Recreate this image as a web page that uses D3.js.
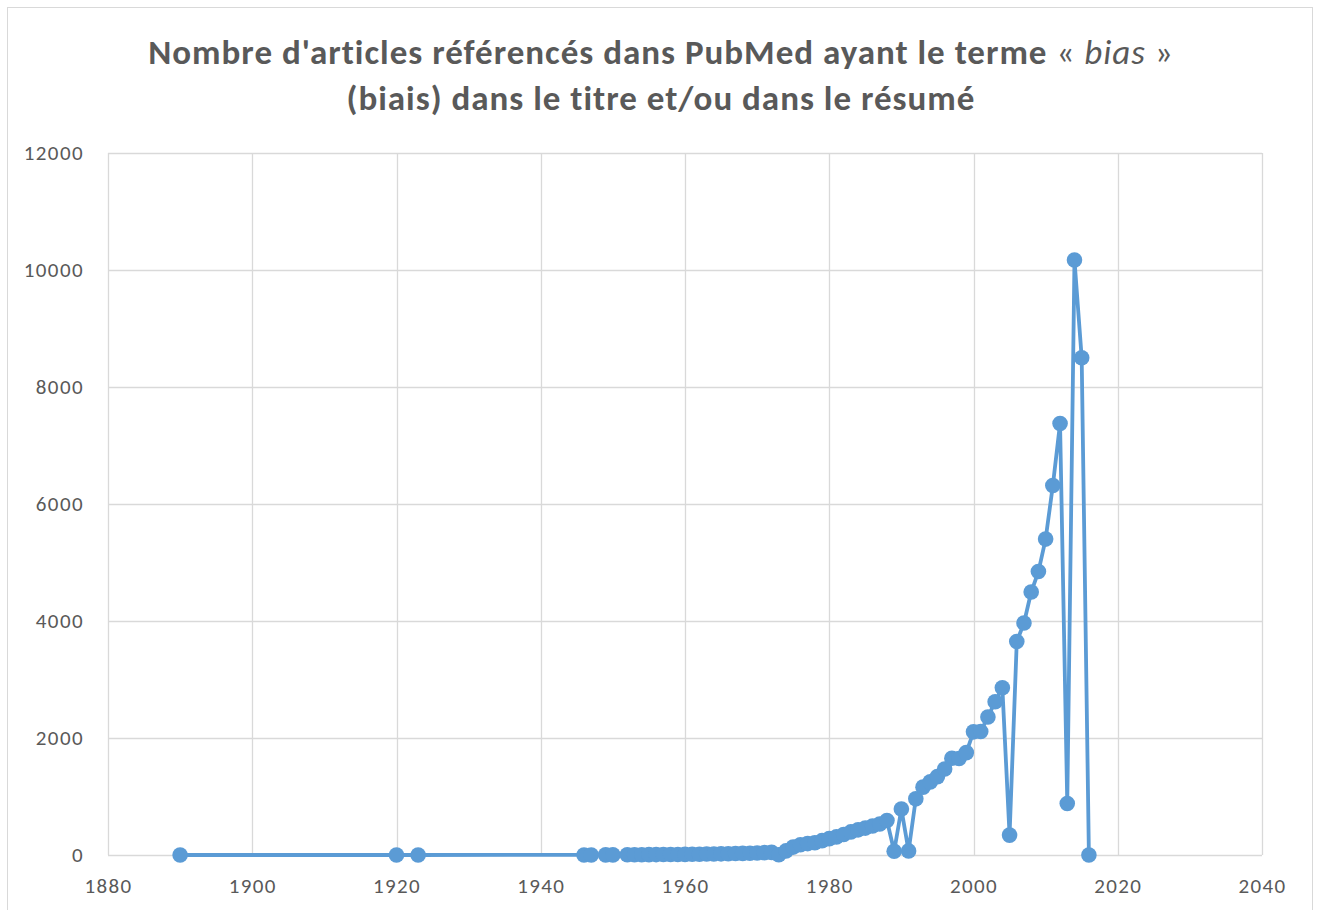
<!DOCTYPE html>
<html>
<head>
<meta charset="utf-8">
<script src="https://cdn.jsdelivr.net/npm/d3@7"></script>
<style>
  body { margin: 0; background: #fff; }
  svg { display: block; }
</style>
</head>
<body>
<svg id="chart" width="1320" height="910"></svg>
<script>
const years = [1890, 1920, 1923, 1946, 1947, 1949, 1950,
  1952, 1953, 1954, 1955, 1956, 1957, 1958, 1959, 1960, 1961, 1962, 1963, 1964, 1965,
  1966, 1967, 1968, 1969, 1970, 1971, 1972, 1973, 1974, 1975, 1976, 1977, 1978, 1979,
  1980, 1981, 1982, 1983, 1984, 1985, 1986, 1987, 1988, 1989, 1990, 1991, 1992, 1993,
  1994, 1995, 1996, 1997, 1998, 1999, 2000, 2001, 2002, 2003, 2004, 2005, 2006, 2007,
  2008, 2009, 2010, 2011, 2012, 2013, 2014, 2015, 2016];
const counts = [0, 0, 0, 1, 1, 2, 2,
  3, 4, 5, 6, 7, 8, 8, 9, 10, 12, 14, 16, 18, 20,
  22, 25, 28, 30, 35, 40, 45, 5, 70, 135, 175, 195, 210, 245,
  280, 310, 350, 395, 430, 460, 495, 530, 590, 65, 785, 70, 960, 1160,
  1250, 1340, 1470, 1655, 1650, 1750, 2105, 2110, 2360, 2620, 2860, 340, 3650, 3965,
  4495, 4845, 5400, 6315, 7375, 880, 10170, 8500, 0];
const xTicks = [1880, 1900, 1920, 1940, 1960, 1980, 2000, 2020, 2040];
const yTicks = [0, 2000, 4000, 6000, 8000, 10000, 12000];
const titleLine1 = ["Nombre d'articles référencés dans PubMed ayant le terme ", "« ", "bias", " »"];
const titleLine2 = "(biais) dans le titre et/ou dans le résumé";

const data = years.map((y, i) => ({year: y, value: counts[i]}));
const svg = d3.select("#chart");
const font = "Carlito, Calibri, Lato, 'Open Sans', sans-serif";
const textColor = "#595959";
const gridColor = "#d9d9d9";
const lineColor = "#5B9BD5";

// outer chart frame
svg.append("rect").attr("x", 7.5).attr("y", 7.5).attr("width", 1305).attr("height", 920)
  .attr("fill", "#fff").attr("stroke", gridColor).attr("stroke-width", 1);

const x = d3.scaleLinear().domain([1880, 2040]).range([108, 1262]);
const y = d3.scaleLinear().domain([0, 12000]).range([855, 153]);

// gridlines
const grid = svg.append("g");
grid.selectAll("line.h").data(yTicks).join("line")
  .attr("x1", x(1880)).attr("x2", x(2040))
  .attr("y1", d => Math.round(y(d)) + 0.5).attr("y2", d => Math.round(y(d)) + 0.5)
  .attr("stroke", gridColor).attr("stroke-width", 1.3);
grid.selectAll("line.v").data(xTicks).join("line")
  .attr("y1", y(0)).attr("y2", y(12000))
  .attr("x1", d => Math.round(x(d)) + 0.5).attr("x2", d => Math.round(x(d)) + 0.5)
  .attr("stroke", gridColor).attr("stroke-width", 1.3);

// axes (labels only)
const yAxis = d3.axisLeft(y).tickValues(yTicks).tickSize(0).tickPadding(24).tickFormat(d3.format("d"));
const gy = svg.append("g").attr("transform", `translate(${x(1880)},0)`).call(yAxis);
gy.select(".domain").remove();
gy.selectAll("text").attr("font-family", font).attr("font-size", 21)
  .attr("letter-spacing", 1.4).attr("fill", textColor);

const xAxis = d3.axisBottom(x).tickValues(xTicks).tickSize(0).tickPadding(23).tickFormat(d3.format("d"));
const gx = svg.append("g").attr("transform", `translate(0,${y(0)})`).call(xAxis);
gx.select(".domain").remove();
gx.selectAll("text").attr("font-family", font).attr("font-size", 21)
  .attr("letter-spacing", 1.4).attr("fill", textColor);

// line
const line = d3.line().x(d => x(d.year)).y(d => y(d.value));
svg.append("path").datum(data).attr("d", line)
  .attr("fill", "none").attr("stroke", lineColor).attr("stroke-width", 3.8)
  .attr("stroke-linejoin", "round");
svg.append("g").selectAll("circle").data(data).join("circle")
  .attr("cx", d => x(d.year)).attr("cy", d => y(d.value)).attr("r", 7.8)
  .attr("fill", lineColor);

// title
const t1 = svg.append("text").attr("x", 661).attr("y", 64).attr("text-anchor", "middle")
  .attr("font-family", font).attr("font-size", 35).attr("letter-spacing", 1).attr("fill", textColor);
t1.append("tspan").attr("font-weight", "bold").text(titleLine1[0]);
t1.append("tspan").attr("font-weight", "normal").text(titleLine1[1]);
t1.append("tspan").attr("font-weight", "normal").attr("font-style", "italic").text(titleLine1[2]);
t1.append("tspan").attr("font-weight", "normal").text(titleLine1[3]);
svg.append("text").attr("x", 661).attr("y", 110).attr("text-anchor", "middle")
  .attr("font-family", font).attr("font-size", 35).attr("letter-spacing", 1).attr("font-weight", "bold")
  .attr("fill", textColor).text(titleLine2);
</script>
</body>
</html>
